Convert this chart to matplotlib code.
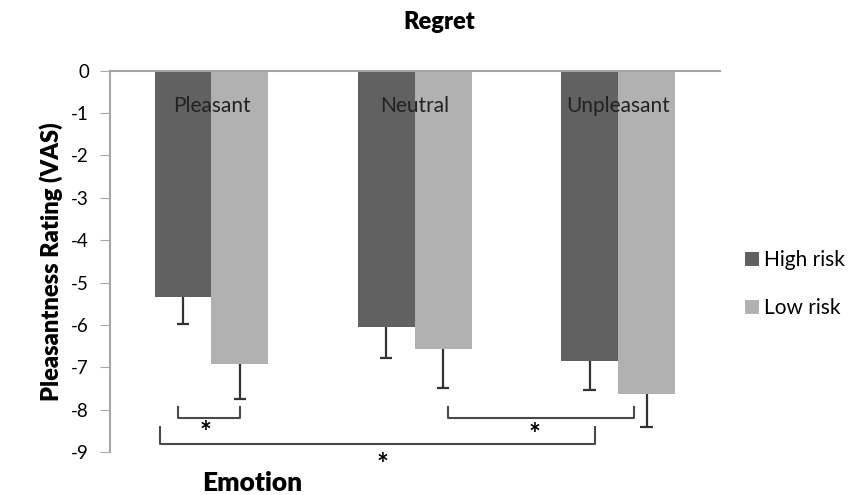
import numpy as np
import matplotlib.pyplot as plt

plt.rcParams['font.family'] = ['Lato', 'DejaVu Sans']

categories = ["Pleasant", "Neutral", "Unpleasant"]
high_risk = [-5.33, -6.04, -6.85]
low_risk = [-6.93, -6.57, -7.63]
high_err = [0.65, 0.74, 0.69]
low_err = [0.82, 0.92, 0.78]
series_names = ["High risk", "Low risk"]
yticks = list(range(0, -10, -1))

# significance brackets: (x_left, x_right, y_top, y_bottom, star_x, star_y)
brackets = [
    (-0.166, 0.139, -7.94, -8.20, -0.028, -8.55),
    (1.164, 2.078, -7.94, -8.20, 1.587, -8.60),
    (-0.254, 1.885, -8.42, -8.82, 0.842, -9.30),
]

DARK = "#616161"
LIGHT = "#b1b1b1"
AXIS = "#a6a6a6"
ERR = "#333333"

fig = plt.figure(figsize=(8.65, 4.95), dpi=100)
ax = fig.add_axes([0.127, 0.087, 0.705, 0.770])

x = np.arange(len(categories))
w = 0.28
ax.bar(x - w / 2, high_risk, w, color=DARK, label=series_names[0], zorder=2)
ax.bar(x + w / 2, low_risk, w, color=LIGHT, label=series_names[1], zorder=2)

# one-sided error bars (downward only, cap at the bottom end)
cap = 0.03
for xs, vals, errs in [(x - w / 2, high_risk, high_err),
                       (x + w / 2, low_risk, low_err)]:
    lo = np.array(vals) - np.array(errs)
    ax.vlines(xs, lo, vals, color=ERR, lw=1.6, zorder=3)
    ax.hlines(lo, xs - cap, xs + cap, color=ERR, lw=1.6, zorder=3,
              clip_on=False)

for xl, xr, yt, yb, sx, sy in brackets:
    ax.plot([xl, xl, xr, xr], [yt, yb, yb, yt], color="#4a4a4a", lw=1.5,
            clip_on=False, zorder=3)
    ax.text(sx, sy, "*", ha="center", va="center", fontsize=20,
            fontweight="bold", color="black", clip_on=False)

for xi, name in zip(x, categories):
    ax.text(xi, -0.82, name, ha="center", va="center", fontsize=15,
            color="#222222", zorder=4)

ax.set_xlim(-0.5, 2.5)
ax.set_ylim(-9, 0)
ax.set_xticks([])
ax.set_yticks(yticks)
ax.set_yticklabels([str(t) for t in yticks], fontsize=13.5)
ax.tick_params(axis="y", direction="out", length=7, color=AXIS, pad=8)

for s in ["right", "bottom"]:
    ax.spines[s].set_visible(False)
ax.spines["top"].set_color(AXIS)
ax.spines["left"].set_color(AXIS)
ax.spines["top"].set_linewidth(1.5)
ax.spines["left"].set_linewidth(1.5)

ax.set_ylabel("Pleasantness Rating (VAS)", fontsize=17, fontweight="heavy",
              labelpad=6)
fig.text(0.508, 0.955, "Regret", ha="center", va="center", fontsize=17,
         fontweight="heavy")
fig.text(0.291, 0.025, "Emotion", ha="center", va="center", fontsize=19,
         fontweight="heavy")

ax.legend(loc="center left", bbox_to_anchor=(1.01, 0.44), frameon=False,
          fontsize=15, handlelength=0.7, handleheight=0.7, handletextpad=0.25,
          labelspacing=1.35)

fig.savefig("out.png", dpi=100)
